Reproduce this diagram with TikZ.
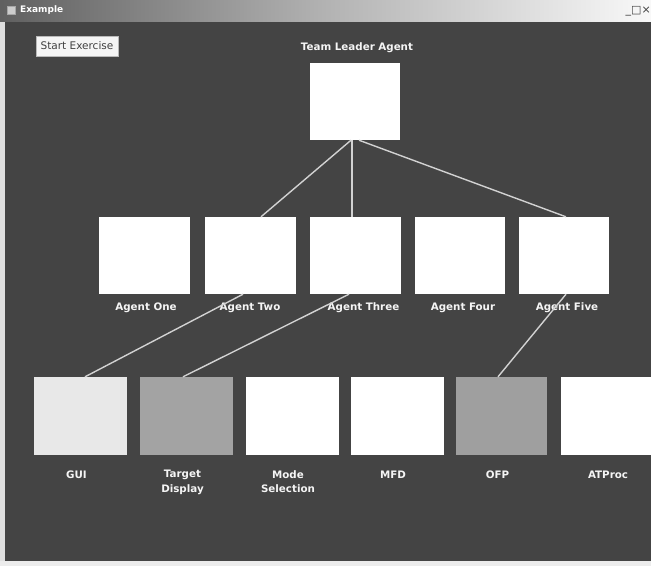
\documentclass[tikz,border=0pt]{standalone}
\usepackage{fontspec}
\setmainfont{DejaVu Sans}
\begin{document}
\begin{tikzpicture}[x=1pt,y=-1pt,
  box/.style={fill=white, draw=none, minimum width=91pt, minimum height=77pt, inner sep=0pt},
  lowbox/.style={box, minimum width=93pt, minimum height=78pt},
  lbltwo/.style={text=white!92!gray, font=\fontsize{10.3}{14.5}\selectfont\bfseries, align=center, inner sep=0pt, anchor=north},
  lbl/.style={lbltwo, text height=7.6pt, text depth=2.5pt},
  link/.style={draw=gray!35, line width=1.4pt}]
\definecolor{bg}{HTML}{444444}
\useasboundingbox (0,0) rectangle (651,566);
% window
\fill[bg] (0,0) rectangle (651,566);
\fill[gray!25] (0,20) rectangle (5,566);
\fill[gray!15] (0,561) rectangle (651,566);
\shade[left color=gray!75!black, right color=gray!5, middle color=gray!60] (0,0) rectangle (651,21);
\node[fill=gray!40, draw=gray!70, minimum size=8pt, inner sep=0pt] (icon) at (11,10) {};
\node[anchor=west, text=white, font=\fontsize{9}{10}\selectfont\bfseries, inner sep=0pt] (title) at (20,10) {Example};
\node[anchor=east, text=black!75, font=\fontsize{11}{12}\selectfont, inner sep=0pt] (winbtn) at (651,11) {\_□×};
\node[fill=gray!8, draw=gray!55, text=black!75, font=\fontsize{10.5}{12}\selectfont, minimum width=82pt, minimum height=20pt, inner sep=0pt] (start) at (77,46) {Start Exercise};
% leader
\node[box, minimum width=90pt] (lead) at (355,101.5) {};
\node[lbl, anchor=center] (leadl) at (357,48) {Team Leader Agent};
% agents
\node[box] (a1) at (144,255.5) {};
\node[box] (a2) at (250,255.5) {};
\node[box] (a3) at (355.5,255.5) {};
\node[box, minimum width=90pt] (a4) at (460,255.5) {};
\node[box, minimum width=90pt] (a5) at (564,255.5) {};
\node[lbl, xshift=2pt, yshift=-8pt] (a1l) at (a1.south) {Agent One};
\node[lbl, xshift=0pt, yshift=-8pt] (a2l) at (a2.south) {Agent Two};
\node[lbl, xshift=8pt, yshift=-8pt] (a3l) at (a3.south) {Agent Three};
\node[lbl, xshift=3pt, yshift=-8pt] (a4l) at (a4.south) {Agent Four};
\node[lbl, xshift=3pt, yshift=-8pt] (a5l) at (a5.south) {Agent Five};
% bottom row
\node[lowbox, fill=gray!18] (gui) at (80.5,416) {};
\node[lowbox, fill=gray!72] (td) at (186.5,416) {};
\node[lowbox] (ms) at (292,416) {};
\node[lowbox] (mfd) at (397,416) {};
\node[lowbox, fill=gray!75, minimum width=91pt] (ofp) at (501.5,416) {};
\node[lowbox, minimum width=90pt] (atp) at (606,416) {};
\node[lbl, xshift=-4pt, yshift=-15pt] (guil) at (gui.south) {GUI};
\node[lbltwo, xshift=-4pt, yshift=-15pt] (tdl) at (td.south) {Target\\Display};
\node[lbltwo, xshift=-4pt, yshift=-15pt] (msl) at (ms.south) {Mode\\Selection};
\node[lbl, xshift=-4pt, yshift=-15pt] (mfdl) at (mfd.south) {MFD};
\node[lbl, xshift=-4pt, yshift=-15pt] (ofpl) at (ofp.south) {OFP};
\node[lbl, xshift=2pt, yshift=-15pt] (atpl) at (atp.south) {ATProc};
% connectors
\draw[link] ([xshift=-4pt]lead.south) -- ([xshift=11pt]a2.north);
\draw[link] ([xshift=-3pt]lead.south) -- ([xshift=-3.5pt]a3.north);
\draw[link] ([xshift=4pt]lead.south) -- ([xshift=2pt]a5.north);
\draw[link] ([xshift=-7pt]a2.south) -- ([xshift=4.5pt]gui.north);
\draw[link] ([xshift=-6.5pt]a3.south) -- ([xshift=-3.5pt]td.north);
\draw[link] ([xshift=2pt]a5.south) -- ([xshift=-3.5pt]ofp.north);
\end{tikzpicture}
\end{document}
